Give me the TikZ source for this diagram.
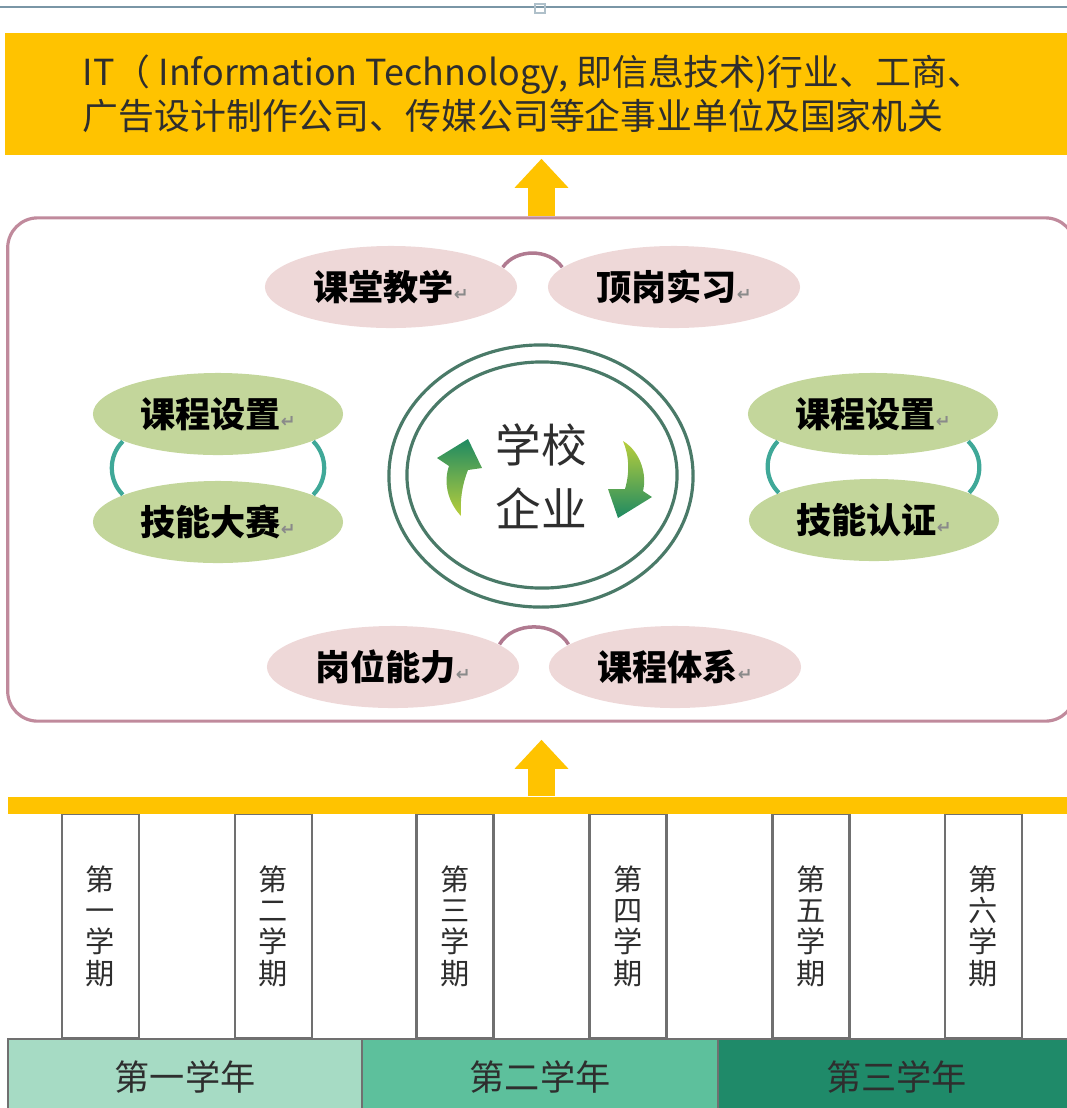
\documentclass[tikz,border=0pt]{standalone}
\usepackage{fontspec}
\setmainfont{Noto Sans CJK SC}
\newfontfamily\arrowfont{DejaVu Sans}
\usepackage{tikz}
\usetikzlibrary{calc}
\usetikzlibrary{shapes.geometric,arrows.meta}

\definecolor{yellowc}{HTML}{FFC300}
\definecolor{pinkfill}{HTML}{EED8D8}
\definecolor{greenfill}{HTML}{C3D69B}
\definecolor{framec}{HTML}{C08A9C}
\definecolor{arcpink}{HTML}{B07A90}
\definecolor{arcteal}{HTML}{3FA898}
\definecolor{ringc}{HTML}{4A7A68}
\definecolor{arrowdark}{HTML}{1E8A62}
\definecolor{arrowlight}{HTML}{B8CE3C}
\definecolor{year1}{HTML}{A6DBC4}
\definecolor{year2}{HTML}{5DC09C}
\definecolor{year3}{HTML}{1F8A69}
\definecolor{semline}{HTML}{707070}
\definecolor{textdark}{HTML}{2E2E2E}
\definecolor{markgray}{HTML}{8A8A8A}
\definecolor{topline}{HTML}{7A96A6}

\newcommand{\retmark}{{\arrowfont\fontsize{5pt}{5pt}\selectfont\textcolor{markgray}{↵}}}

\begin{document}
\begin{tikzpicture}[x=0.01cm, y=-0.01cm,
	pinknode/.style={ellipse, fill=pinkfill, minimum width=2.52cm, minimum height=0.82cm, inner sep=0pt, font=\fontsize{10pt}{12pt}\selectfont\bfseries},
	greennode/.style={ellipse, fill=greenfill, minimum width=2.5cm, minimum height=0.82cm, inner sep=0pt, font=\fontsize{10pt}{12pt}\selectfont\bfseries},
	semnode/.style={rectangle, draw=semline, line width=0.6pt, minimum width=0.77cm, minimum height=2.24cm, inner sep=0pt, align=center, text=textdark, font=\fontsize{8.3pt}{8.9pt}\selectfont},
	yearnode/.style={rectangle, draw=semline, line width=0.5pt, minimum height=0.76cm, inner sep=0pt, text=textdark, font=\fontsize{10pt}{12pt}\selectfont},
	pinklink/.style={draw=arcpink, line width=1pt},
	greenlink/.style={draw=arcteal, line width=1.2pt},
	yellowarrow/.style={draw=yellowc, line width=0.27cm, -{Triangle[width=0.52cm,length=0.29cm]}}]
			\useasboundingbox (0,0) rectangle (1067,1108);

			\draw[topline, line width=0.6pt] (0,7) -- (1067,7);
			\draw[topline!60, line width=0.5pt] (535,4) rectangle (545,13);

			\node[fill=yellowc, minimum width=10.7cm, minimum height=1.22cm, inner sep=0pt] (itbox) at (540,94) {};
			\node[anchor=west, align=left, inner sep=0pt, text=textdark, font=\fontsize{10.2pt}{12.5pt}\selectfont] (ittext) at (82,94) {IT（ Information Technology, 即信息技术)行业、工商、\\广告设计制作公司、传媒公司等企事业单位及国家机关};

			\node[draw=framec, line width=0.9pt, rounded corners=0.3cm, minimum width=10.67cm, minimum height=5.03cm] (frame) at (541.5,469.5) {};

			\draw[yellowarrow] (frame.north) -- ($(frame.north |- itbox.south) + (0,3)$);

			% ring in the middle
			\node[ellipse, draw=ringc, line width=0.9pt, minimum width=3.04cm, minimum height=2.62cm] (outring) at (541,476) {};
			\node[ellipse, draw=ringc, line width=0.9pt, minimum width=2.7cm, minimum height=2.26cm] (inring) at ($(outring.center) + (1,-1)$) {};
			\node[text=textdark, font=\fontsize{13pt}{15pt}\selectfont] (xuexiao) at ($(outring.center) + (0,-31)$) {学校};
			\node[text=textdark, font=\fontsize{13pt}{15pt}\selectfont] (qiye) at ($(outring.center) + (0,32)$) {企业};

			\shade[top color=arrowdark, bottom color=arrowlight] (461,516) .. controls (446,500) and (444,480) .. (449,466) -- (437,458) -- (468,439) -- (482,468) -- (468,470) .. controls (462,485) and (460,500) .. (461,516) -- cycle;
			\shade[top color=arrowlight, bottom color=arrowdark] (623,441) .. controls (641,452) and (647,475) .. (643,491) -- (652,497) -- (618,518) -- (608,489) -- (625,489) .. controls (630,472) and (629,455) .. (623,441) -- cycle;

			\node[pinknode] (ktjx) at (391,287) {课堂教学\retmark};
			\node[pinknode] (dgsx) at ($(ktjx) + (283,0)$) {顶岗实习\retmark};
			\node[pinknode] (gwnl) at (393,667) {岗位能力\retmark};
			\node[pinknode] (kctx) at ($(gwnl) + (282,0)$) {课程体系\retmark};

			\node[greennode] (kcsz1) at (218,414) {课程设置\retmark};
			\node[greennode] (jnds) at ($(kcsz1) + (0,108)$) {技能大赛\retmark};
			\node[greennode] (kcsz2) at (873,414) {课程设置\retmark};
			\node[greennode] (jnrz) at ($(kcsz2) + (1,106)$) {技能认证\retmark};

			\draw[pinklink] (ktjx.10) to[bend left=55] (dgsx.170);
			\draw[pinklink] (gwnl.12) to[bend left=60] (kctx.168);
			\draw[greenlink] (kcsz1.196) to[bend right=45] (jnds.164);
			\draw[greenlink] (kcsz1.344) to[bend left=45] (jnds.16);
			\draw[greenlink] (kcsz2.196) to[bend right=45] (jnrz.164);
			\draw[greenlink] (kcsz2.344) to[bend left=45] (jnrz.16);

			\node[semnode] (sem1) at (100.5,926) {第\\一\\学\\期};
			\node[semnode] (sem2) at (273.5,926) {第\\二\\学\\期};
			\node[semnode] (sem3) at (455,926) {第\\三\\学\\期};
			\node[semnode] (sem4) at (628,926) {第\\四\\学\\期};
			\node[semnode] (sem5) at (811,926) {第\\五\\学\\期};
			\node[semnode] (sem6) at (983.5,926) {第\\六\\学\\期};

			\node[fill=yellowc, minimum width=10.67cm, minimum height=0.17cm, inner sep=0pt] (bar) at (541.5,805.5) {};
			\draw[yellowarrow] (bar.north) -- ($(frame.south) + (0,17)$);

			\node[yearnode, fill=year1, minimum width=3.54cm] (year1) at (185,1077) {第一学年};
			\node[yearnode, fill=year2, minimum width=3.56cm] (year2) at (540,1077) {第二学年};
			\node[yearnode, fill=year3, minimum width=3.57cm] (year3) at (896.5,1077) {第三学年};

		\end{tikzpicture}
\end{document}
